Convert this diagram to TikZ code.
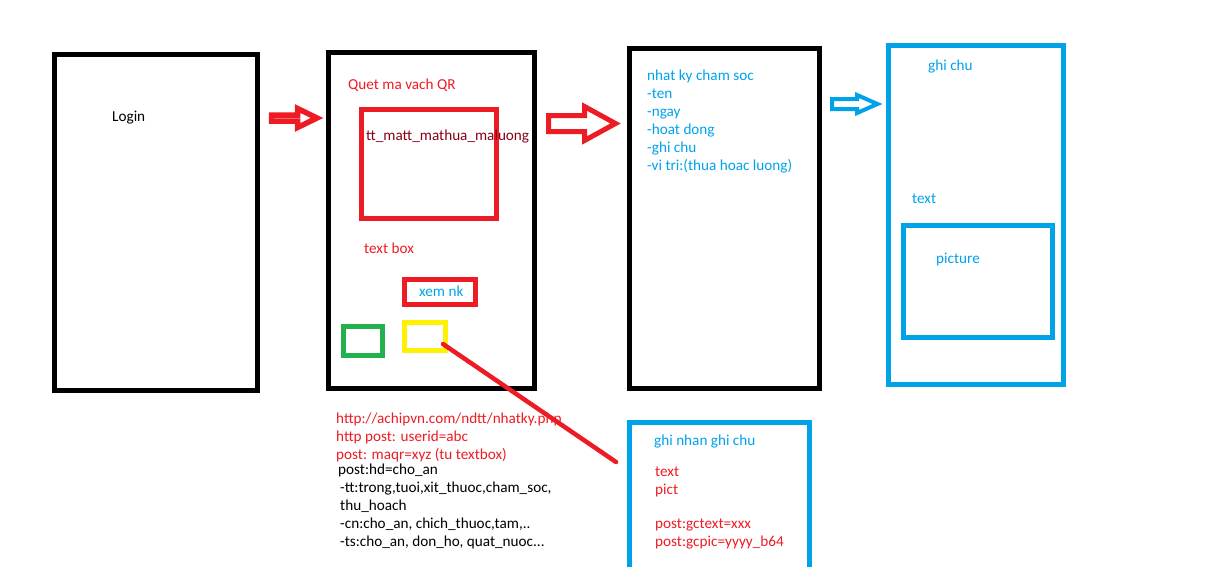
\documentclass[tikz,border=0pt]{standalone}
\usepackage{fontspec}
\setmainfont{Carlito}
\definecolor{pred}{HTML}{ED1C24}
\definecolor{pblue}{HTML}{00A2E8}
\definecolor{pgreen}{HTML}{22B14C}
\definecolor{pyellow}{HTML}{FFF200}
\definecolor{pmaroon}{HTML}{880015}
\tikzset{
  screen/.style={draw, line width=5pt, inner sep=0pt},
  boxsize/.style 2 args={minimum width=#1pt, minimum height=#2pt},
  lbl/.style={inner sep=0pt, anchor=base west, font=\fontsize{15.2}{18}\selectfont},
  blockarrow/.style={line width=#1pt, line join=miter},
}
\begin{document}
\begin{tikzpicture}[x=1pt, y=-1pt]
  \useasboundingbox (0,0) rectangle (1206,566);

  % screens
  \node[screen, boxsize={203}{335.5}] (login) at (156,222.25) {};
  \node[screen, boxsize={206}{336}] (scan) at (431.5,220.5) {};
  \node[screen, boxsize={190}{340}] (diary) at (724.5,218.5) {};
  \node[screen, pblue, boxsize={175}{339.5}] (note) at (976,214.75) {};
  \node[screen, pblue, boxsize={180}{177.5}] (record) at (719.5,511.25) {};

  % parts of the scan screen
  \node[screen, pred, boxsize={134.5}{108.5}] (qr) at (428.75,163.75) {};
  \node[screen, pred, boxsize={71}{25.5}] (xemnk) at (440,291.75) {};
  \node[screen, pgreen, line width=4.5pt, boxsize={39}{29}] (okbtn) at (363,341) {};
  \node[screen, pyellow, line width=4.5pt, boxsize={41}{28}] (notebtn) at (425,336.5) {};
  \node[screen, pblue, boxsize={149}{112}] (pic) at (978,281.5) {};

  % arrows between screens
  \draw[blockarrow=5.5, pred] (271.5,115) -- (297.5,115) -- (297.5,108.5) -- (317,118)
    -- (297.5,127.5) -- (297.5,121) -- (271.5,121) -- cycle;
  \draw[blockarrow=5, pred] (548.5,115.5) -- (584.5,115.5) -- (584.5,106.5) -- (615.5,123.5)
    -- (584.5,140.5) -- (584.5,131.5) -- (548.5,131.5) -- cycle;
  \draw[blockarrow=4, pblue] (832,99) -- (857,99) -- (857,95) -- (877.5,104)
    -- (857,113) -- (857,109) -- (832,109) -- cycle;

  % link from the yellow button to the note record
  \coordinate (lnkA) at (443,344);
  \coordinate (lnkB) at (616,462);
  \draw[pred, line width=4.5pt, line cap=round] (lnkA) -- (lnkB);

  % texts
  \node[lbl] (tlogin) at (112,121) {Login};
  \node[lbl, pred] (tscan) at (348,89) {Quet ma vach QR};
  \node[lbl, pmaroon] (tqr) at (366,140) {tt\_matt\_mathua\_maluong};
  \node[lbl, pred] (tbox) at (364,253) {text box};
  \node[lbl, pblue] (txem) at (419,296) {xem nk};

  \foreach \txt [count=\i from 0] in {nhat ky cham soc, -ten, -ngay, -hoat dong, -ghi chu,
      -vi tri:(thua hoac luong)}
    \node[lbl, pblue] (tdiary\i) at (647,80+18*\i) {\txt};

  \node[lbl, pblue] (tnote) at (928,70) {ghi chu};
  \node[lbl, pblue] (ttext) at (912,203) {text};
  \node[lbl, pblue] (tpic) at (936,263) {picture};

  \node[lbl, pred] (turl0) at (336,423) {http://achipvn.com/ndtt/nhatky.php};
  \node[lbl, pred] (turl1) at (336,441) {http post: userid=abc};
  \node[lbl, pred] (turl2) at (336,459) {post: maqr=xyz (tu textbox)};
  \node[lbl] (thd) at (338,474) {post:hd=cho\_an};
  \node[lbl] (thd1) at (340,492) {-tt:trong,tuoi,xit\_thuoc,cham\_soc,};
  \node[lbl] (thd2) at (340,510) {thu\_hoach};
  \node[lbl] (thd3) at (340,528) {-cn:cho\_an, chich\_thuoc,tam,..};
  \node[lbl] (thd4) at (340,546) {-ts:cho\_an, don\_ho, quat\_nuoc...};

  \node[lbl, pblue] (trec) at (654,445) {ghi nhan ghi chu};
  \node[lbl, pred] (trec1) at (655,476) {text};
  \node[lbl, pred] (trec2) at (655,494) {pict};
  \node[lbl, pred] (trec3) at (655,528) {post:gctext=xxx};
  \node[lbl, pred] (trec4) at (655,546) {post:gcpic=yyyy\_b64};
\end{tikzpicture}
\end{document}
